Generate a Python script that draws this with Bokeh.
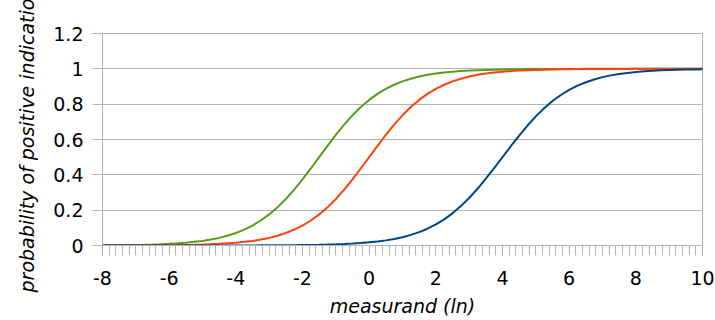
from bokeh.plotting import figure
from bokeh.models import Range1d, FixedTicker, SingleIntervalTicker
from bokeh.embed import file_html
from bokeh.resources import INLINE

x = [-8.0, -7.75, -7.5, -7.25, -7.0, -6.75, -6.5, -6.25, -6.0, -5.75, -5.5, -5.25,
     -5.0, -4.75, -4.5, -4.25, -4.0, -3.75, -3.5, -3.25, -3.0, -2.75, -2.5, -2.25,
     -2.0, -1.75, -1.5, -1.25, -1.0, -0.75, -0.5, -0.25, 0.0, 0.25, 0.5, 0.75,
     1.0, 1.25, 1.5, 1.75, 2.0, 2.25, 2.5, 2.75, 3.0, 3.25, 3.5, 3.75,
     4.0, 4.25, 4.5, 4.75, 5.0, 5.25, 5.5, 5.75, 6.0, 6.25, 6.5, 6.75,
     7.0, 7.25, 7.5, 7.75, 8.0, 8.25, 8.5, 8.75, 9.0, 9.25, 9.5, 9.75, 10.0]

green = [0.0012, 0.0016, 0.0021, 0.0027, 0.0035, 0.0045, 0.0058, 0.0074, 0.0096,
         0.0124, 0.016, 0.0206, 0.026, 0.034, 0.043, 0.0556, 0.071, 0.0897, 0.113,
         0.1415, 0.176, 0.216, 0.263, 0.316, 0.374, 0.436, 0.5, 0.564, 0.626, 0.684,
         0.737, 0.784, 0.824, 0.8585, 0.887, 0.910, 0.929, 0.944, 0.957, 0.966, 0.974,
         0.979, 0.984, 0.9876, 0.990, 0.9926, 0.994, 0.9955, 0.9965, 0.9973, 0.998,
         0.9984, 0.9988, 0.999, 0.9993, 0.9995, 0.9996, 0.9997, 0.9998, 0.9998,
         0.9999, 0.9999, 0.9999, 0.9999, 1.0, 1.0, 1.0, 1.0, 1.0, 1.0, 1.0, 1.0, 1.0]

red = [0.00026, 0.00034, 0.00044, 0.00057, 0.00074, 0.00096, 0.0012, 0.0016, 0.0021,
       0.0027, 0.0035, 0.0045, 0.0058, 0.0074, 0.0096, 0.0124, 0.016, 0.0206, 0.026,
       0.034, 0.043, 0.0556, 0.071, 0.0897, 0.113, 0.1415, 0.176, 0.216, 0.263, 0.316,
       0.374, 0.436, 0.5, 0.564, 0.626, 0.684, 0.737, 0.784, 0.824, 0.8585, 0.887,
       0.910, 0.929, 0.944, 0.957, 0.966, 0.974, 0.979, 0.984, 0.9876, 0.990, 0.9926,
       0.994, 0.9955, 0.9965, 0.9973, 0.998, 0.9984, 0.9988, 0.999, 0.9993, 0.9995,
       0.9996, 0.9997, 0.9998, 0.9998, 0.9999, 0.9999, 0.9999, 0.9999, 1.0, 1.0, 1.0]

blue = [0.000006, 0.0000079, 0.00001, 0.000013, 0.000017, 0.000021, 0.000028,
        0.000035, 0.000045, 0.000058, 0.000075, 0.000096, 0.00012, 0.00016, 0.0002,
        0.00026, 0.00034, 0.00043, 0.00055, 0.00071, 0.00091, 0.0012, 0.0015, 0.0019,
        0.0025, 0.0032, 0.0041, 0.0052, 0.0067, 0.0086, 0.011, 0.014, 0.018, 0.023,
        0.029, 0.037, 0.047, 0.060, 0.076, 0.095, 0.119, 0.148, 0.182, 0.223, 0.269,
        0.321, 0.378, 0.438, 0.5, 0.562, 0.622, 0.679, 0.731, 0.777, 0.818, 0.852,
        0.881, 0.905, 0.924, 0.940, 0.953, 0.963, 0.971, 0.977, 0.982, 0.986, 0.989,
        0.9914, 0.9933, 0.9948, 0.9959, 0.9968, 0.9975]

y_ticks = [0, 0.2, 0.4, 0.6, 0.8, 1.0, 1.2]
y_tick_labels = ["0", "0.2", "0.4", "0.6", "0.8", "1", "1.2"]
x_ticks = [-8, -6, -4, -2, 0, 2, 4, 6, 8, 10]
x_tick_labels = ["-8", "-6", "-4", "-2", "0", "2", "4", "6", "8", "10"]
x_title = "measurand (ln)"
y_title = "probability of positive indication"

GRID = "#b3b3b3"
FONT = "DejaVu Sans"

p = figure(width=715, height=320, output_backend="svg", toolbar_location=None,
           x_range=Range1d(-8, 10), y_range=Range1d(0, 1.2),
           min_border_left=102, min_border_right=13, min_border_top=33,
           min_border_bottom=75)

p.line(x, green, line_color="#579d1c", line_width=2)
p.line(x, red, line_color="#ff420e", line_width=2)
p.line(x, blue, line_color="#004586", line_width=2)

p.outline_line_color = GRID
p.xgrid.grid_line_color = None
p.ygrid.grid_line_color = GRID
p.ygrid.grid_line_width = 1

p.xaxis.ticker = SingleIntervalTicker(interval=2, num_minor_ticks=10)
p.yaxis.ticker = FixedTicker(ticks=y_ticks)
p.yaxis.major_label_overrides = dict(zip(y_ticks, y_tick_labels))
p.xaxis.major_label_overrides = dict(zip(x_ticks, x_tick_labels))

for ax in (p.xaxis[0], p.yaxis[0]):
    ax.axis_line_color = GRID
    ax.major_tick_line_color = GRID
    ax.minor_tick_line_color = GRID
    ax.major_tick_in = 0
    ax.minor_tick_in = 0
    ax.major_label_text_font = FONT
    ax.major_label_text_font_size = "19px"
    ax.major_label_text_color = "#000000"
    ax.axis_label_text_font = FONT
    ax.axis_label_text_font_size = "19px"
    ax.axis_label_text_font_style = "italic"
    ax.axis_label_text_color = "#000000"

p.xaxis.major_tick_out = 10
p.xaxis.minor_tick_out = 10
p.yaxis.major_tick_out = 10
p.yaxis.minor_tick_line_color = None
p.xaxis.major_label_standoff = 15
p.yaxis.major_label_standoff = 9
p.xaxis.axis_label = x_title
p.yaxis.axis_label = y_title
p.xaxis.axis_label_standoff = 7
p.yaxis.axis_label_standoff = 12

open("out.html", "w").write(file_html(p, INLINE))
